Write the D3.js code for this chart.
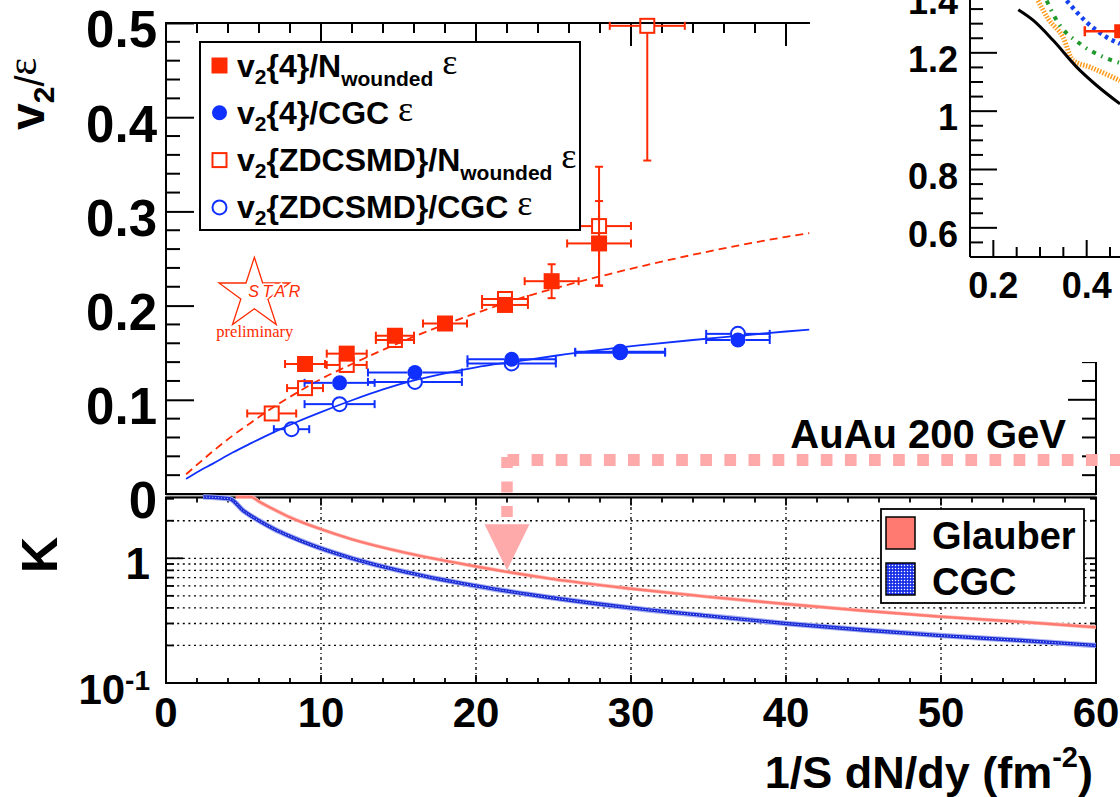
<!DOCTYPE html>
<html><head><meta charset="utf-8">
<script src="https://cdn.jsdelivr.net/npm/d3@7"></script>
<style>
body{margin:0;background:#fff}
svg{display:block}
</style></head>
<body><svg id="c" width="1120" height="797" font-family='"Liberation Sans",Arial,Helvetica,sans-serif' font-weight="bold"></svg>
<script>
// ---------------- data ----------------
const redFilledX = [8.97, 11.66, 14.77, 18.0, 21.87, 24.88, 27.94];
const redFilledY = [0.138, 0.149, 0.168, 0.181, 0.2007, 0.2259, 0.266];
const redFilledXErr = [1.29, 1.29, 1.23, 1.42, 1.48, 1.74, 2.06];
const redFilledYErr = [0.004, 0.005, 0.005, 0.004, 0.008, 0.018, 0.045];

const redOpenX = [6.82, 8.97, 11.66, 14.77, 21.87, 27.94, 31.05];
const redOpenY = [0.0855, 0.1124, 0.137, 0.1635, 0.207, 0.2844, 0.497];
const redOpenXErr = [1.58, 1.16, 1.29, 1.23, 1.48, 2.06, 2.42];
const redOpenYErr = [0.004, 0.004, 0.004, 0.004, 0.006, 0.063, 0.143];

const blueFilledX = [11.2, 16.06, 22.3, 29.3, 36.9];
const blueFilledY = [0.118, 0.129, 0.143, 0.150, 0.1635];
const blueFilledXErr = [2.26, 3.03, 2.85, 2.9, 2.05];
const blueFilledYErr = [0.003, 0.004, 0.004, 0.005, 0.005];

const blueOpenX = [8.1, 11.2, 16.06, 22.3, 29.3, 36.9];
const blueOpenY = [0.0688, 0.0954, 0.119, 0.1386, 0.151, 0.170];
const blueOpenXErr = [1.14, 2.26, 3.03, 2.85, 2.9, 2.05];
const blueOpenYErr = [0.003, 0.003, 0.004, 0.004, 0.005, 0.005];

const fitX = [1.3, 2, 3, 4.3, 5.5, 7, 8.5, 10, 12, 14, 16, 18, 20, 22.5, 25, 28, 31, 34, 37, 40, 41.5];
const fitGlauberY = [0.021, 0.031, 0.045, 0.062, 0.076, 0.093, 0.108, 0.122, 0.138, 0.153, 0.167, 0.180, 0.192, 0.206, 0.218, 0.231, 0.243, 0.254, 0.264, 0.273, 0.277];
const fitCGCY = [0.016, 0.023, 0.032, 0.044, 0.054, 0.066, 0.077, 0.087, 0.0995, 0.111, 0.1205, 0.128, 0.1345, 0.1405, 0.1465, 0.153, 0.1585, 0.1635, 0.168, 0.1725, 0.1745];

const kGlauberX = [4.5, 5.5, 6, 7, 8, 10, 12, 15, 20, 25, 30, 35, 40, 45, 50, 55, 60];
const kGlauberY = [3.8, 3.1, 2.85, 2.45, 2.13, 1.71, 1.42, 1.14, 0.86, 0.68, 0.57, 0.49, 0.43, 0.38, 0.34, 0.31, 0.28];
const kCGCX = [2.4, 4.1, 5, 6, 7, 8, 10, 12, 15, 20, 25, 30, 35, 40, 45, 50, 55, 60];
const kCGCY = [5, 3.0, 2.4, 2.0, 1.71, 1.5, 1.2, 1.0, 0.8, 0.6, 0.48, 0.4, 0.345, 0.3, 0.266, 0.24, 0.22, 0.2];

// inset (partially visible second chart)
const insetBlackX = [0.2535, 0.2857, 0.3285, 0.3786, 0.4215, 0.4714];
const insetBlackY = [1.3475, 1.311, 1.242, 1.151, 1.088, 1.025];
const insetOrangeX = [0.2957, 0.317, 0.3493, 0.3707, 0.4071, 0.4714];
const insetOrangeY = [1.379, 1.318, 1.253, 1.174, 1.151, 1.105];
const insetGreenX = [0.3143, 0.3357, 0.3857, 0.4286, 0.4714];
const insetGreenY = [1.379, 1.311, 1.231, 1.191, 1.165];
const insetBlueX = [0.357, 0.40, 0.4429, 0.4714];
const insetBlueY = [1.379, 1.305, 1.2535, 1.231];
const insetPointX = [0.474];
const insetPointY = [1.274];
const insetPointXErr = [0.078];

// ticks / labels
const upperYTicks = [0, 0.1, 0.2, 0.3, 0.4, 0.5];
const lowerXTicks = [0, 10, 20, 30, 40, 50, 60];
const lowerGrid = [0.2, 0.3, 0.4, 0.5, 0.6, 0.7, 0.8, 0.9, 1, 2];
const insetYTicks = [0.6, 0.8, 1, 1.2, 1.4];
const insetXTicks = [0.2, 0.4];
const legendUpper = [
  {main:"v", sub:"2", rest:"{4}/N", sub2:"wounded", marker:"fsq"},
  {main:"v", sub:"2", rest:"{4}/CGC", sub2:"", marker:"fci"},
  {main:"v", sub:"2", rest:"{ZDCSMD}/N", sub2:"wounded", marker:"osq"},
  {main:"v", sub:"2", rest:"{ZDCSMD}/CGC", sub2:"", marker:"oci"}
];
const legendLower = ["Glauber", "CGC"];
const annotArrowX = 22, annotLevel = 0.036, annotTipK = 0.8;

// ---------------- drawing ----------------
const SANS = '"Liberation Sans",Arial,Helvetica,sans-serif';
const SERIF = '"Liberation Serif","Times New Roman",serif';
const RED = "#ff2a00", BLUE = "#1030ff", PINK = "#ffaaaa", SALMON = "#ff7b72", KBLUE = "#1c2ed8";
const svg = d3.select("#c");
svg.append("rect").attr("width",1120).attr("height",797).attr("fill","#fff");
const defs = svg.append("defs");
const pat = defs.append("pattern").attr("id","cgcPat").attr("width",3).attr("height",3).attr("patternUnits","userSpaceOnUse");
pat.append("rect").attr("width",3).attr("height",3).attr("fill","#1a30e6");
pat.append("circle").attr("cx",1.5).attr("cy",1.5).attr("r",0.75).attr("fill","#fff");

const x = d3.scaleLinear().domain([0,60]).range([166,1096]);
const yU = d3.scaleLinear().domain([0,0.5]).range([494,23]);
const yUc = d3.scaleLinear().domain([0,0.5]).range([494,23]).clamp(true);
const yL = d3.scaleLog().domain([0.1,3.1]).range([683,497]).clamp(true);
const xI = d3.scaleLinear().domain([0.15,0.4714]).range([970,1120]);
const yI = d3.scaleLinear().domain([0.5,1.4]).range([257,-5.5]);

function line(g,x1,y1,x2,y2,col,w){ g.append("line").attr("x1",x1).attr("y1",y1).attr("x2",x2).attr("y2",y2).attr("stroke",col).attr("stroke-width",w); }

// ===== upper panel =====
const up = svg.append("g");
up.append("rect").attr("x",166).attr("y",23).attr("width",930).attr("height",471).attr("fill","none").attr("stroke","#000").attr("stroke-width",2);
const ax = up.append("g").attr("transform","translate(166,0)")
  .call(d3.axisLeft(yU).tickValues(upperYTicks).tickSize(-28).tickSizeOuter(0).tickPadding(9)
  .tickFormat(d => d===0 ? "0" : d3.format(".1f")(d)));
ax.attr("font-family",SANS).attr("font-weight","bold").attr("font-size",51);
ax.select(".domain").remove();
ax.selectAll("line").attr("stroke","#000").attr("stroke-width",2);
ax.selectAll("text").attr("dy","0.47em").attr("fill","#000");
d3.range(0,0.5001,0.02).forEach(v=>{ if(Math.abs(v*10-Math.round(v*10))>1e-6) line(up,166,yU(v),180,yU(v),"#000",2); });
d3.range(0,0.5001,0.02).forEach(v=>{ const maj=Math.abs(v*10-Math.round(v*10))<1e-6; line(up,1096,yU(v),1096-(maj?28:14),yU(v),"#000",2); });
d3.range(0,60.01,2).forEach(v=>{ const maj=v%10===0; line(up,x(v),23,x(v),23+(maj?23:10),"#000",2); });

const lineGen = (xs, sx, sy) => d3.line().x((d,i)=>sx(xs[i])).y(d=>sy(d)).curve(d3.curveMonotoneX);
up.append("path").attr("d", lineGen(fitX,x,yU)(fitGlauberY)).attr("fill","none").attr("stroke",RED).attr("stroke-width",1.8).attr("stroke-dasharray","8,5");
up.append("path").attr("d", lineGen(fitX,x,yU)(fitCGCY)).attr("fill","none").attr("stroke",BLUE).attr("stroke-width",1.8);

function series(xs, ys, xe, ye, col, marker){
  const g = up.append("g");
  xs.forEach((xv,i)=>{
    const cx = x(xv), cy = yU(ys[i]);
    const h = 7.5;
    const xl = x(xv-xe[i]), xr = x(xv+xe[i]);
    line(g,xl,cy,cx-h,cy,col,2); line(g,cx+h,cy,xr,cy,col,2);
    line(g,xl,cy-4,xl,cy+4,col,2); line(g,xr,cy-4,xr,cy+4,col,2);
    const yt = yUc(ys[i]+ye[i]), yb = yUc(ys[i]-ye[i]);
    if (cy-yt > h+1){ line(g,cx,yt,cx,cy-h,col,2); if (ys[i]+ye[i] < 0.5) line(g,cx-4,yt,cx+4,yt,col,2); }
    if (yb-cy > h+1){ line(g,cx,cy+h,cx,yb,col,2); line(g,cx-4,yb,cx+4,yb,col,2); }
  });
  xs.forEach((xv,i)=> drawMarker(g, marker, x(xv), yU(ys[i]), col));
}
function drawMarker(g, m, cx, cy, col){
  if (m==="fsq") g.append("rect").attr("x",cx-8).attr("y",cy-8).attr("width",16).attr("height",16).attr("fill",col);
  if (m==="osq") g.append("rect").attr("x",cx-7).attr("y",cy-7).attr("width",14).attr("height",14).attr("fill","none").attr("stroke",col).attr("stroke-width",2);
  if (m==="fci") g.append("circle").attr("cx",cx).attr("cy",cy).attr("r",7.5).attr("fill",col);
  if (m==="oci") g.append("circle").attr("cx",cx).attr("cy",cy).attr("r",7).attr("fill","none").attr("stroke",col).attr("stroke-width",2);
}
series(blueOpenX, blueOpenY, blueOpenXErr, blueOpenYErr, BLUE, "oci");
series(blueFilledX, blueFilledY, blueFilledXErr, blueFilledYErr, BLUE, "fci");
series(redOpenX, redOpenY, redOpenXErr, redOpenYErr, RED, "osq");
series(redFilledX, redFilledY, redFilledXErr, redFilledYErr, RED, "fsq");

// legend
const lg = up.append("g");
lg.append("rect").attr("x",200).attr("y",42).attr("width",380).attr("height",188).attr("fill","#fff").attr("stroke","#000").attr("stroke-width",2);
legendUpper.forEach((e,i)=>{
  const cy = 65.5 + i*47.3, base = cy + 11;
  const col = (e.marker==="fsq"||e.marker==="osq") ? RED : BLUE;
  drawMarker(lg, e.marker, 219.5, cy, col);
  const t = lg.append("text").attr("x",237).attr("y",base).attr("font-size",32).attr("fill","#000");
  t.append("tspan").text(e.main);
  t.append("tspan").attr("font-size",21).attr("dy",7).text(e.sub);
  t.append("tspan").attr("dy",-7).text(e.rest);
  if (e.sub2){ t.append("tspan").attr("font-size",21).attr("dy",9).text(e.sub2); t.append("tspan").attr("dy",-9).text(" "); }
  else t.append("tspan").text(" ");
  t.append("tspan").attr("font-family",SERIF).attr("font-weight","normal").attr("font-size",36).attr("dy",-3).text("ε");
});

// STAR logo
const sg = up.append("g");
const scx = x(5.7), scy = yU(0.2118), R = 37.2, r = R*0.382;
const starPts = d3.range(10).map(k=>{ const a = -Math.PI/2 + k*Math.PI/5; const rr = k%2===0?R:r; return [scx+rr*Math.cos(a), scy+rr*Math.sin(a)]; });
sg.append("polygon").attr("points", starPts.map(p=>p.join(",")).join(" ")).attr("fill","none").attr("stroke",RED).attr("stroke-width",1.3);
sg.append("text").attr("x",scx-6).attr("y",scy+3).attr("font-size",16).attr("font-style","italic").attr("font-weight","normal")
  .attr("letter-spacing",3.5).attr("fill",RED).attr("stroke","#fff").attr("stroke-width",3).attr("paint-order","stroke").text("STAR");
sg.append("text").attr("x",scx-38).attr("y",scy+43).attr("font-size",16.5).attr("font-weight","normal")
  .attr("font-family",SERIF).attr("fill",RED).text("preliminary");

// y title
const yt = svg.append("text").attr("transform","translate(44,130) rotate(-90)").attr("font-size",48).attr("fill","#000");
yt.append("tspan").text("v");
yt.append("tspan").attr("font-size",30).attr("dy",10).text("2");
yt.append("tspan").attr("font-size",40).attr("font-weight","normal").attr("dy",-10).text("/");
yt.append("tspan").attr("font-size",42).attr("font-weight","normal").attr("font-family",SERIF).attr("dy",-8).text("ε");

// ===== lower panel =====
const lo = svg.append("g");
lo.append("rect").attr("x",166).attr("y",494).attr("width",930).attr("height",3.5).attr("fill","#bbb");
lowerGrid.forEach(v=> lo.append("line").attr("x1",166).attr("x2",1096).attr("y1",yL(v)).attr("y2",yL(v)).attr("stroke","#000").attr("stroke-width",1.3).attr("stroke-dasharray","2,3.6"));
[10,20,30,40,50].forEach(v=> lo.append("line").attr("x1",x(v)).attr("x2",x(v)).attr("y1",497).attr("y2",683).attr("stroke","#000").attr("stroke-width",1.3).attr("stroke-dasharray","3,3,1,3"));
lo.append("rect").attr("x",166).attr("y",497.5).attr("width",930).attr("height",185.5).attr("fill","none").attr("stroke","#000").attr("stroke-width",2);
line(lo,166,494,1096,494,"#000",2);
d3.range(0,60.01,2).forEach(v=>{ const maj=v%10===0; line(lo,x(v),497.5,x(v),497.5+(maj?8:5),"#000",1.8); line(lo,x(v),683,x(v),683-(maj?8:5),"#000",1.8); });
[0.2,0.3,0.4,0.5,0.6,0.7,0.8,0.9,1,2,3].forEach(v=>{ const maj=v===1; line(lo,166,yL(v),166+(maj?17:8),yL(v),"#000",1.8); line(lo,1096,yL(v),1096-(maj?10:6),yL(v),"#000",1.8); });
const kLine = (xs) => d3.line().x((d,i)=>x(xs[i])).y(d=>yL(d)).curve(d3.curveMonotoneX);
lo.append("path").attr("d",kLine(kGlauberX)(kGlauberY)).attr("fill","none").attr("stroke","#ffc2bd").attr("stroke-width",3.8);
lo.append("path").attr("d",kLine(kGlauberX)(kGlauberY)).attr("fill","none").attr("stroke",SALMON).attr("stroke-width",2.4);
lo.append("path").attr("d",kLine(kCGCX)(kCGCY)).attr("fill","none").attr("stroke","#a8b0f0").attr("stroke-width",5.5);
lo.append("path").attr("d",kLine(kCGCX)(kCGCY)).attr("fill","none").attr("stroke",KBLUE).attr("stroke-width",3.4);
lo.append("path").attr("d",kLine(kCGCX)(kCGCY)).attr("fill","none").attr("stroke","#c8d0ff").attr("stroke-width",1).attr("stroke-dasharray","1,2");
lowerXTicks.forEach(v=> lo.append("text").attr("x",x(v)).attr("y",727).attr("text-anchor","middle").attr("font-size",42).attr("fill","#000").text(v));
lo.append("text").attr("x",150).attr("y",yL(1)+21).attr("text-anchor","end").attr("font-size",44).attr("fill","#000").text("1");
const tl = lo.append("text").attr("x",150).attr("y",yL(0.1)+21).attr("text-anchor","end").attr("font-size",42).attr("fill","#000");
tl.append("tspan").text("10");
tl.append("tspan").attr("font-size",28).attr("dy",-14).text("-1");
svg.append("text").attr("transform","translate(57,555) rotate(-90)").attr("text-anchor","middle").attr("font-size",50).attr("fill","#000").text("K");
const xt = svg.append("text").attr("x",1093).attr("y",788).attr("text-anchor","end").attr("font-size",45).attr("fill","#000");
xt.append("tspan").text("1/S dN/dy (fm");
xt.append("tspan").attr("font-size",29).attr("dy",-21).text("-2");
xt.append("tspan").attr("dy",21).text(")");
const ll = lo.append("g");
ll.append("rect").attr("x",881).attr("y",509).attr("width",203).attr("height",94).attr("fill","#fff").attr("stroke","#000").attr("stroke-width",1.8);
legendLower.forEach((name,i)=>{
  const top = 517 + i*46;
  ll.append("rect").attr("x",886).attr("y",top).attr("width",29).attr("height",32)
    .attr("fill", i===0 ? SALMON : "url(#cgcPat)").attr("stroke","#000").attr("stroke-width",1.5);
  ll.append("text").attr("x",932).attr("y",top+32).attr("font-size",38).attr("fill","#000").text(name);
});

// ===== inset (second chart, partially visible) =====
const ins = svg.append("g");
ins.append("rect").attr("x",810).attr("y",0).attr("width",310).attr("height",362).attr("fill","#fff");
line(ins,970,-2,970,257,"#000",2);
line(ins,970,257,1122,257,"#000",2);
d3.range(0.5,1.4001,0.05).forEach(v=>{ const maj=Math.abs(v*5-Math.round(v*5))<1e-6; line(ins,970,yI(v),970+(maj?27:13),yI(v),"#000",2); });
d3.range(0.15,0.4714,0.05).forEach(v=>{ const maj=Math.abs(v*5-Math.round(v*5))<1e-6; line(ins,xI(v),257,xI(v),257-(maj?17:10),"#000",2); });
insetYTicks.forEach(v=> ins.append("text").attr("x",958).attr("y",yI(v)+19).attr("text-anchor","end").attr("font-size",36).attr("fill","#000").text(v===1?"1":d3.format(".1f")(v)));
insetXTicks.forEach(v=> ins.append("text").attr("x",xI(v)).attr("y",298).attr("text-anchor","middle").attr("font-size",36).attr("fill","#000").text(d3.format(".1f")(v)));
const iLine = (xs) => d3.line().x((d,i)=>xI(xs[i])).y(d=>yI(d)).curve(d3.curveMonotoneX);
ins.append("path").attr("d",iLine(insetOrangeX)(insetOrangeY)).attr("fill","none").attr("stroke","#ff9a1a").attr("stroke-width",5).attr("stroke-dasharray","1.5,1.5");
ins.append("path").attr("d",iLine(insetGreenX)(insetGreenY)).attr("fill","none").attr("stroke","#1f9a2a").attr("stroke-width",4).attr("stroke-dasharray","4,6,1.5,6");
ins.append("path").attr("d",iLine(insetBlueX)(insetBlueY)).attr("fill","none").attr("stroke","#1442f0").attr("stroke-width",4.5).attr("stroke-dasharray","3.5,4");
ins.append("path").attr("d",iLine(insetBlackX)(insetBlackY)).attr("fill","none").attr("stroke","#000").attr("stroke-width",3);
insetPointX.forEach((xv,i)=>{
  const cx = xI(xv), cy = yI(insetPointY[i]), xl = xI(xv-insetPointXErr[i]);
  line(ins,xl,cy,cx,cy,RED,2.5); line(ins,xl,cy-5,xl,cy+5,RED,2.5);
  ins.append("rect").attr("x",cx-7).attr("y",cy-7).attr("width",14).attr("height",14).attr("fill",RED);
  line(ins,cx,cy-30,cx,cy+30,RED,2.5);
});

// ===== annotation =====
const an = svg.append("g");
const ax0 = x(annotArrowX), ay0 = yU(annotLevel);
an.append("path").attr("d",`M${ax0+0.5},${ay0} H1125`).attr("stroke",PINK).attr("stroke-width",12).attr("stroke-dasharray","11.7,12.4").attr("fill","none");
an.append("path").attr("d",`M${ax0},${ay0-3} V${ay0+59}`).attr("stroke",PINK).attr("stroke-width",11.5).attr("stroke-dasharray","11,13.5").attr("fill","none");
const tip = yL(annotTipK);
an.append("polygon").attr("points",`${ax0-22.5},${tip-46} ${ax0+22.5},${tip-46} ${ax0},${tip}`).attr("fill",PINK);
svg.append("text").attr("x",1066).attr("y",448).attr("text-anchor","end").attr("font-size",40).attr("fill","#000").text("AuAu 200 GeV");
</script></body></html>
